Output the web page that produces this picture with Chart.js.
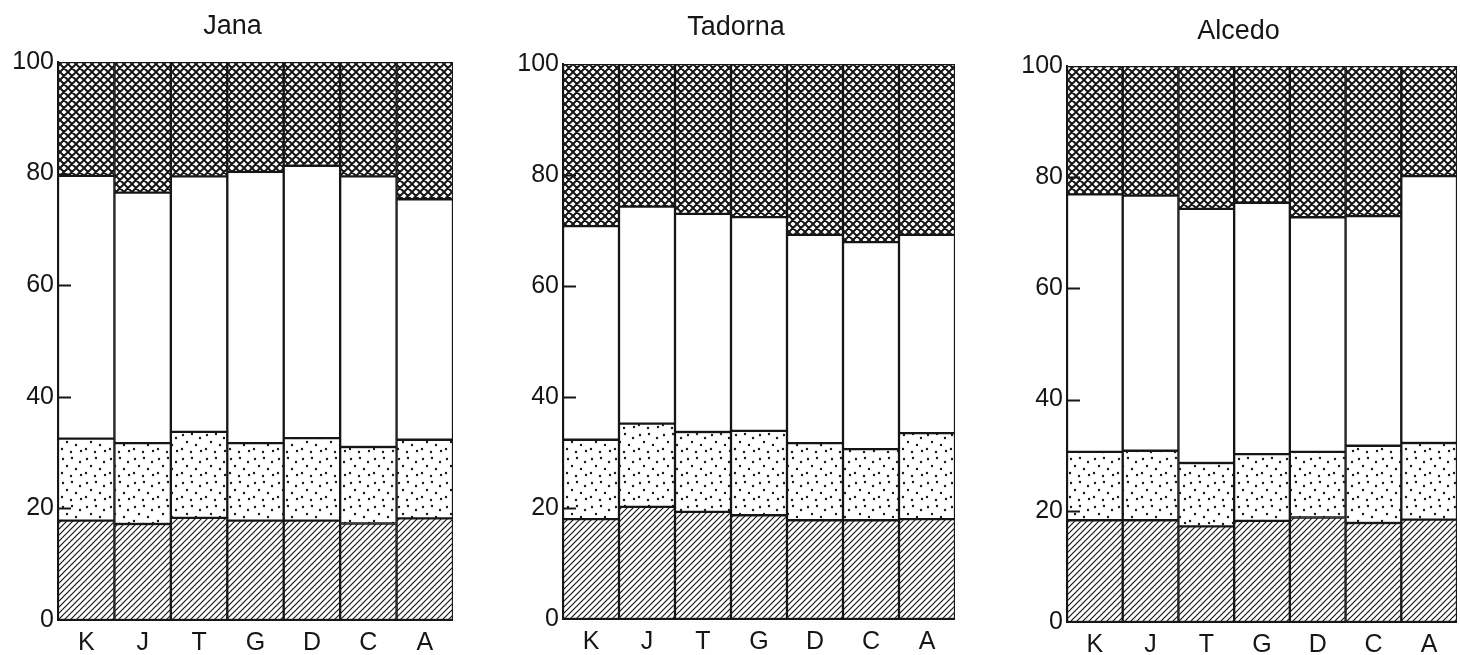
<!DOCTYPE html>
<html>
<head>
<meta charset="utf-8">
<script src="https://cdn.jsdelivr.net/npm/chart.js@4.4.0/dist/chart.umd.min.js"></script>
<style>
  body { margin: 0; background: #fff; width: 1460px; height: 655px; overflow: hidden; position: relative; }
  .panel { position: absolute; top: 0; height: 655px; }
</style>
</head>
<body>
<div class="panel" style="left:12px; width:441px;"><canvas id="janaChart"></canvas></div>
<div class="panel" style="left:517px; width:438px;"><canvas id="tadornaChart"></canvas></div>
<div class="panel" style="left:1020px; width:437px;"><canvas id="alcedoChart"></canvas></div>
<script>
// categories on the x axis
const categories = ['K', 'J', 'T', 'G', 'D', 'C', 'A'];
const yTicks = [0, 20, 40, 60, 80, 100];

// Jana - segment sizes, bottom to top
const janaHatched = [17.8, 17.2, 18.3, 17.8, 17.8, 17.3, 18.2];
const janaDotted  = [14.7, 14.5, 15.4, 13.9, 14.8, 13.7, 14.1];
const janaWhite   = [47.1, 44.9, 45.8, 48.6, 48.8, 48.5, 43.1];
const janaCross   = [20.4, 23.4, 20.5, 19.7, 18.6, 20.5, 24.6];

// Tadorna
const tadornaHatched = [18.0, 20.2, 19.3, 18.7, 17.8, 17.8, 18.0];
const tadornaDotted  = [14.3, 15.0, 14.4, 15.2, 13.9, 12.8, 15.5];
const tadornaWhite   = [38.5, 39.1, 39.3, 38.5, 37.5, 37.3, 35.7];
const tadornaCross   = [29.2, 25.7, 27.0, 27.6, 30.8, 32.1, 30.8];

// Alcedo
const alcedoHatched = [18.3, 18.3, 17.2, 18.2, 18.8, 17.8, 18.4];
const alcedoDotted  = [12.3, 12.5, 11.4, 12.0, 11.8, 13.9, 13.8];
const alcedoWhite   = [46.3, 45.9, 45.7, 45.2, 42.2, 41.3, 48.0];
const alcedoCross   = [23.1, 23.3, 25.7, 24.6, 27.2, 27.0, 19.8];

const ink = '#161616';
const fontFamily = "'Liberation Sans', 'DejaVu Sans', sans-serif";

// fill patterns
function hatchPattern() {
    const s = 6;
    const c = document.createElement('canvas');
    c.width = s; c.height = s;
    const g = c.getContext('2d');
    g.fillStyle = '#fff';
    g.fillRect(0, 0, s, s);
    g.strokeStyle = ink;
    g.lineWidth = 1.2;
    g.beginPath();
    g.moveTo(-1, s + 1); g.lineTo(s + 1, -1);
    g.moveTo(-1, 1); g.lineTo(1, -1);
    g.moveTo(s - 1, s + 1); g.lineTo(s + 1, s - 1);
    g.stroke();
    return g.createPattern(c, 'repeat');
}

function crossPattern() {
    const s = 8;
    const c = document.createElement('canvas');
    c.width = s; c.height = s;
    const g = c.getContext('2d');
    g.fillStyle = '#fff';
    g.fillRect(0, 0, s, s);
    g.strokeStyle = ink;
    g.lineWidth = 2.0;
    g.beginPath();
    g.moveTo(-1, s + 1); g.lineTo(s + 1, -1);
    g.moveTo(-1, 1); g.lineTo(1, -1);
    g.moveTo(s - 1, s + 1); g.lineTo(s + 1, s - 1);
    g.moveTo(-1, -1); g.lineTo(s + 1, s + 1);
    g.moveTo(s - 1, -1); g.lineTo(s + 1, 1);
    g.moveTo(-1, s - 1); g.lineTo(1, s + 1);
    g.stroke();
    return g.createPattern(c, 'repeat');
}

function dotPattern() {
    const s = 24;
    const c = document.createElement('canvas');
    c.width = s; c.height = s;
    const g = c.getContext('2d');
    g.fillStyle = '#fff';
    g.fillRect(0, 0, s, s);
    g.fillStyle = ink;
    const spots = [[3, 3], [12, 2], [20, 6], [7, 10], [16, 13], [2, 17], [11, 20], [21, 19]];
    spots.forEach(p => {
        g.beginPath();
        g.arc(p[0], p[1], 1.2, 0, Math.PI * 2);
        g.fill();
    });
    return g.createPattern(c, 'repeat');
}

const fills = [hatchPattern(), dotPattern(), '#ffffff', crossPattern()];

// small ticks pointing into the plot
const innerTicks = {
    id: 'innerTicks',
    afterDatasetsDraw(chart) {
        const ctx = chart.ctx;
        const y = chart.scales.y;
        const left = chart.chartArea.left;
        ctx.save();
        ctx.strokeStyle = ink;
        ctx.lineWidth = 2;
        [20, 40, 60, 80].forEach(v => {
            const py = Math.round(y.getPixelForValue(v)) + 0.5;
            ctx.beginPath();
            ctx.moveTo(left, py);
            ctx.lineTo(left + 13, py);
            ctx.stroke();
        });
        ctx.restore();
    }
};

function makePanel(id, title, series, opt) {
    const datasets = series.map((data, i) => ({
        data: data,
        backgroundColor: fills[i],
        borderColor: ink,
        borderWidth: 1.5,
        borderSkipped: false,
        categoryPercentage: 1.0,
        barPercentage: 1.0
    }));
    const titleSize = 27;
    const titleH = titleSize * 1.2;
    return new Chart(document.getElementById(id), {
        type: 'bar',
        data: { labels: categories, datasets: datasets },
        options: {
            responsive: true,
            maintainAspectRatio: false,
            animation: false,
            layout: { padding: 0 },
            plugins: {
                legend: { display: false },
                tooltip: { enabled: false },
                title: {
                    display: true,
                    text: title,
                    color: ink,
                    font: { family: fontFamily, size: titleSize, weight: 'normal' },
                    padding: { top: opt.titleY - titleH / 2, bottom: opt.top - opt.titleY - titleH / 2 }
                }
            },
            scales: {
                x: {
                    stacked: true,
                    grid: { display: false, drawTicks: false },
                    border: { display: true, color: ink, width: 2 },
                    ticks: { color: ink, padding: 8, font: { family: fontFamily, size: 25 } },
                    afterFit: s => { s.height = 655 - opt.bottom; }
                },
                y: {
                    stacked: true,
                    min: 0,
                    max: 100,
                    afterBuildTicks: s => { s.ticks = yTicks.map(v => ({ value: v })); },
                    grid: { display: false, drawTicks: false },
                    border: { display: true, color: ink, width: 2 },
                    ticks: { color: ink, padding: 4, font: { family: fontFamily, size: 25 } },
                    afterFit: s => { s.width = opt.yWidth; }
                }
            }
        },
        plugins: [innerTicks]
    });
}

makePanel('janaChart', 'Jana', [janaHatched, janaDotted, janaWhite, janaCross],
    { yWidth: 46, top: 62, bottom: 620, titleY: 27 });
makePanel('tadornaChart', 'Tadorna', [tadornaHatched, tadornaDotted, tadornaWhite, tadornaCross],
    { yWidth: 46, top: 64, bottom: 619, titleY: 28 });
makePanel('alcedoChart', 'Alcedo', [alcedoHatched, alcedoDotted, alcedoWhite, alcedoCross],
    { yWidth: 47, top: 66, bottom: 622, titleY: 32 });
</script>
</body>
</html>
